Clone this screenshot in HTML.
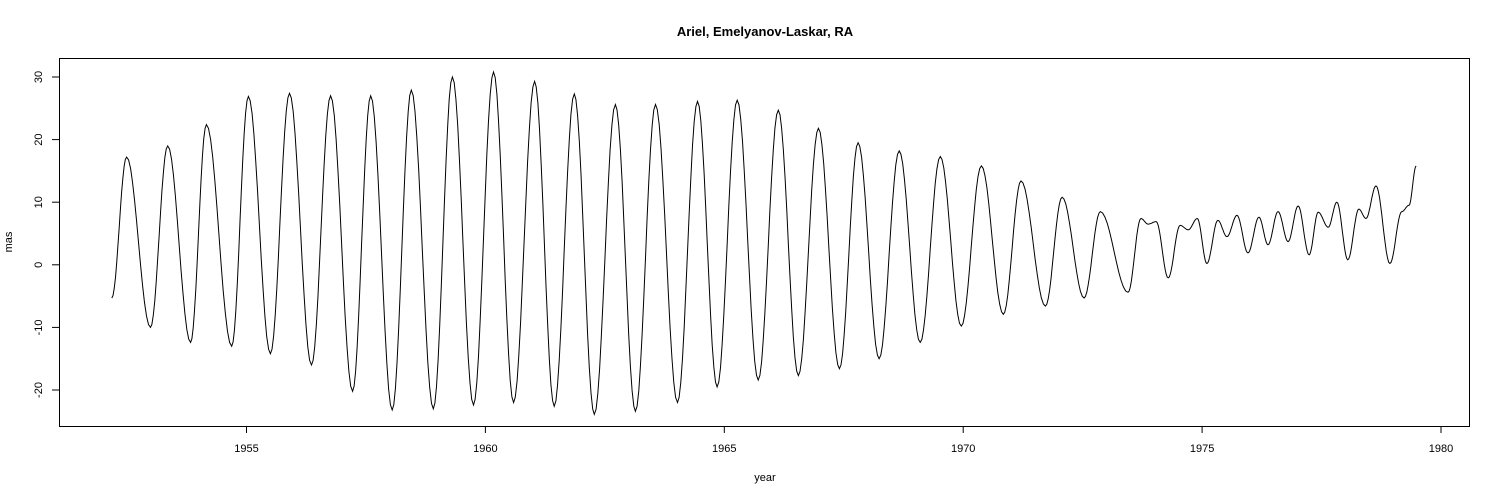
<!DOCTYPE html>
<html><head><meta charset="utf-8"><style>
body{margin:0;background:#fff}
svg{display:block;font-family:"Liberation Sans",sans-serif}
</style></head><body>
<svg id="chart" width="1500" height="500" viewBox="0 0 1500 500">
<rect x="0" y="0" width="1500" height="500" fill="#fff"/>
<text x="765" y="36" text-anchor="middle" font-size="13" font-weight="bold">Ariel, Emelyanov-Laskar, RA</text>
<text x="765" y="481" text-anchor="middle" font-size="11">year</text>
<text transform="translate(12,242) rotate(-90)" text-anchor="middle" font-size="11">mas</text>
<rect x="59.5" y="58.5" width="1410" height="368" fill="none" stroke="#000" stroke-width="1"/>
<g id="xaxis"></g>
<g id="yaxis"></g>
<path id="series" fill="none" stroke="#000" stroke-width="1"/>
</svg>
<script>
const years = [1952.18,1952.49,1952.99,1953.35,1953.83,1954.16,1954.69,1955.04,1955.5,1955.9,1956.36,1956.76,1957.22,1957.6,1958.05,1958.45,1958.91,1959.31,1959.75,1960.17,1960.59,1961.03,1961.44,1961.86,1962.28,1962.72,1963.14,1963.56,1964.02,1964.44,1964.85,1965.27,1965.71,1966.13,1966.55,1966.97,1967.41,1967.8,1968.24,1968.66,1969.1,1969.52,1969.96,1970.38,1970.84,1971.21,1971.72,1972.07,1972.53,1972.87,1973.45,1973.72,1973.87,1974.04,1974.29,1974.54,1974.71,1974.9,1975.10,1975.33,1975.52,1975.73,1975.96,1976.19,1976.38,1976.59,1976.80,1977.01,1977.24,1977.43,1977.64,1977.82,1978.05,1978.28,1978.43,1978.64,1978.93,1979.18,1979.33,1979.48];
const values = [-5.3,17.2,-10,19,-12.4,22.4,-13,26.9,-14.2,27.4,-16,27,-20.2,27,-23.2,27.9,-23,30,-22.4,30.8,-22,29.3,-22.6,27.3,-23.9,25.6,-23.4,25.6,-22,26.1,-19.5,26.3,-18.4,24.7,-17.7,21.8,-16.6,19.5,-15,18.2,-12.4,17.3,-9.8,15.8,-7.9,13.4,-6.6,10.8,-5.3,8.5,-4.4,7.4,6.5,6.9,-2.1,6.3,5.6,7.4,0.2,7.1,4.5,7.9,1.9,7.6,3.2,8.5,3.7,9.4,1.6,8.4,6.0,10.0,0.8,8.9,7.4,12.6,0.2,8.5,9.5,15.8];
const xTicks = [1955,1960,1965,1970,1975,1980];
const yTicks = [-20,-10,0,10,20,30];

const NS='http://www.w3.org/2000/svg';
function xs(v){return 246.5+(v-1955)*47.78;}
function ys(v){return 264.8-v*6.26;}
const xa=document.getElementById('xaxis'), ya=document.getElementById('yaxis');
xTicks.forEach(t=>{
  const l=document.createElementNS(NS,'line');
  
  
  l.setAttribute('x1',xs(t));l.setAttribute('x2',xs(t));l.setAttribute('y1',426);l.setAttribute('y2',433);l.setAttribute('stroke','#000');
  xa.appendChild(l);
  const tx=document.createElementNS(NS,'text');
  
  
  tx.setAttribute('x',xs(t));tx.setAttribute('y',452);tx.setAttribute('text-anchor','middle');tx.setAttribute('font-size','11');
  tx.textContent=t;xa.appendChild(tx);
});
yTicks.forEach(t=>{
  const l=document.createElementNS(NS,'line');
  
  
  l.setAttribute('x1',52);l.setAttribute('x2',59);l.setAttribute('y1',ys(t));l.setAttribute('y2',ys(t));l.setAttribute('stroke','#000');
  ya.appendChild(l);
  const tx=document.createElementNS(NS,'text');
  
  
  tx.setAttribute('transform','translate(42,'+ys(t)+') rotate(-90)');tx.setAttribute('text-anchor','middle');tx.setAttribute('font-size','11');
  tx.textContent=t;ya.appendChild(tx);
});
let d='M'+xs(years[0]).toFixed(1)+','+ys(values[0]).toFixed(1);
for(let i=0;i<years.length-1;i++){
  const n=12;
  for(let k=1;k<=n;k++){
    const t=k/n, s=(1-Math.cos(Math.PI*t))/2;
    const x=years[i]+(years[i+1]-years[i])*t;
    const y=values[i]+(values[i+1]-values[i])*s;
    d+='L'+xs(x).toFixed(1)+','+ys(y).toFixed(1);
  }
}
document.getElementById('series').setAttribute('d',d);
</script>
</body></html>
